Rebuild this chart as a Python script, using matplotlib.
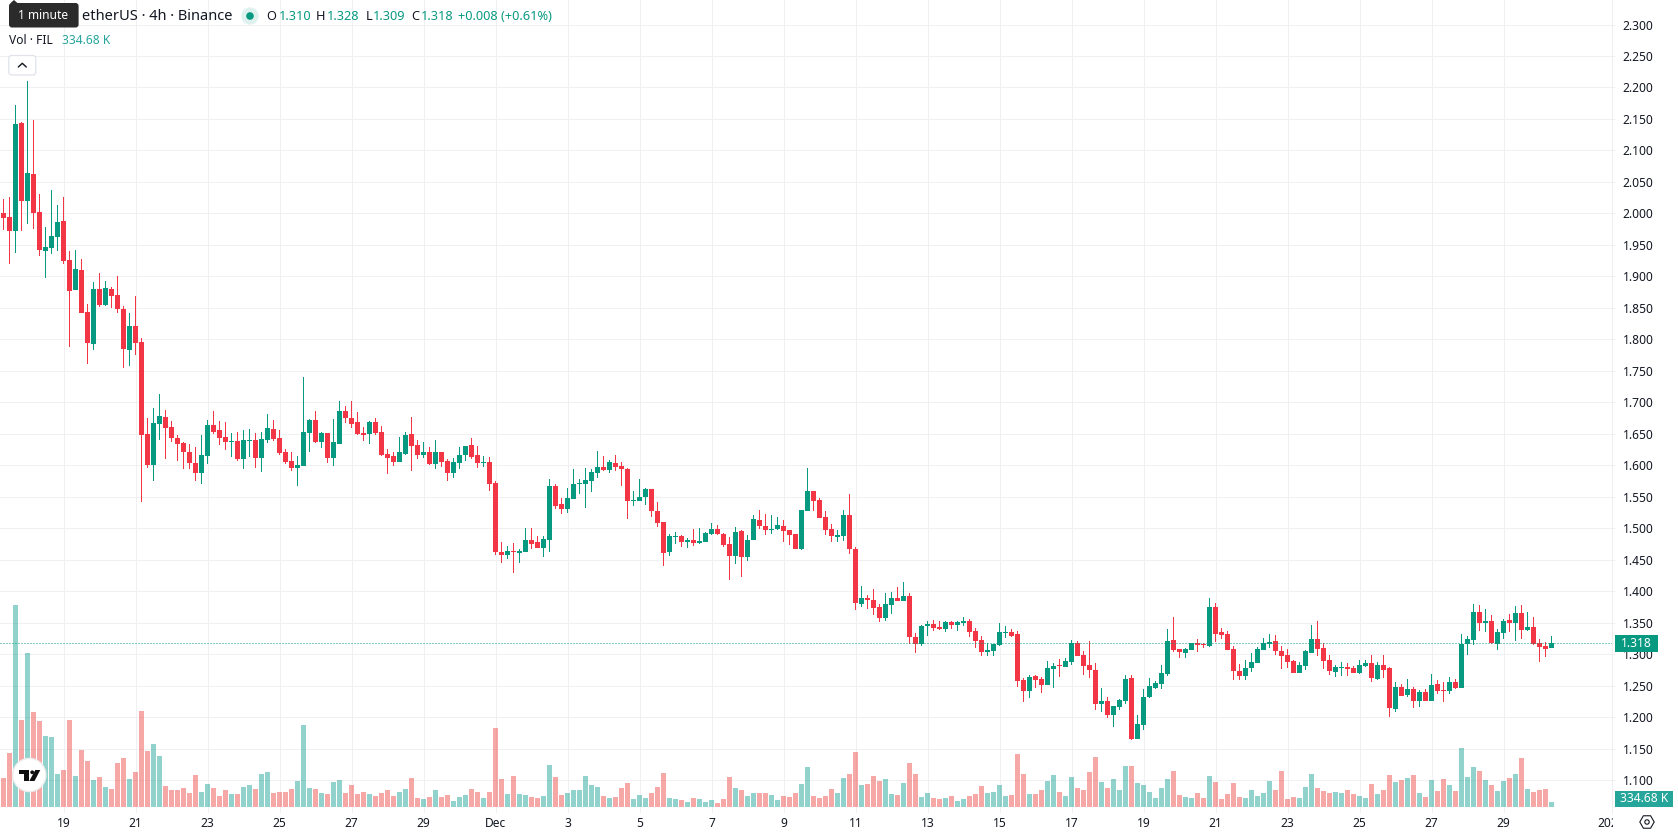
import matplotlib
matplotlib.use("Agg")
import matplotlib.pyplot as plt
from matplotlib.patches import FancyBboxPatch, Circle, Polygon, Rectangle, RegularPolygon
from matplotlib.transforms import Bbox

plt.rcParams['font.family'] = ['Noto Sans', 'DejaVu Sans']

# FIL/USDT 4h candles
opens = [
 2.001,1.994,1.972,2.144,2.020,2.063,2.002,1.941,1.945,1.963,
 1.988,1.926,1.879,1.910,1.844,1.793,1.880,1.855,1.880,1.871,
 1.848,1.783,1.821,1.796,1.650,1.600,1.666,1.677,1.661,1.643,
 1.635,1.621,1.604,1.588,1.615,1.664,1.656,1.645,1.637,1.639,
 1.610,1.639,1.640,1.612,1.640,1.658,1.643,1.621,1.607,1.596,
 1.599,1.651,1.672,1.637,1.651,1.612,1.634,1.686,1.675,1.669,
 1.651,1.650,1.669,1.653,1.618,1.615,1.605,1.618,1.650,1.632,
 1.616,1.621,1.602,1.621,1.607,1.588,1.604,1.616,1.632,1.616,
 1.604,1.605,1.572,1.462,1.458,1.464,1.461,1.462,1.481,1.478,
 1.469,1.481,1.567,1.539,1.531,1.547,1.570,1.570,1.575,1.588,
 1.597,1.592,1.604,1.599,1.594,1.543,1.543,1.550,1.562,1.527,
 1.510,1.462,1.486,1.488,1.478,1.481,1.477,1.478,1.491,1.499,
 1.491,1.475,1.456,1.496,1.454,1.481,1.513,1.504,1.497,1.499,
 1.504,1.497,1.491,1.467,1.527,1.559,1.545,1.518,1.499,1.486,
 1.488,1.521,1.467,1.380,1.389,1.386,1.375,1.357,1.378,1.389,
 1.384,1.392,1.327,1.316,1.345,1.348,1.343,1.340,1.351,1.346,
 1.350,1.353,1.337,1.322,1.304,1.305,1.315,1.334,1.335,1.332,
 1.259,1.242,1.265,1.261,1.251,1.276,1.283,1.280,1.288,1.318,
 1.299,1.283,1.275,1.221,1.226,1.204,1.216,1.226,1.262,1.165,
 1.188,1.232,1.246,1.253,1.269,1.323,1.308,1.302,1.307,1.318,
 1.316,1.313,1.375,1.335,1.332,1.308,1.273,1.265,1.278,1.286,
 1.307,1.316,1.321,1.305,1.299,1.289,1.270,1.281,1.302,1.324,
 1.310,1.291,1.272,1.278,1.280,1.278,1.270,1.281,1.286,1.261,
 1.283,1.278,1.213,1.248,1.235,1.245,1.226,1.240,1.226,1.253,
 1.243,1.242,1.256,1.246,1.316,1.323,1.367,1.350,1.353,1.316,
 1.334,1.354,1.350,1.365,1.338,1.343,1.318,1.313,1.310,
]
highs = [
 2.023,2.026,2.172,2.145,2.210,2.148,2.031,1.979,2.037,2.014,
 2.026,1.941,1.942,1.928,1.856,1.891,1.906,1.893,1.883,1.901,
 1.853,1.842,1.868,1.802,1.675,1.691,1.713,1.688,1.670,1.648,
 1.637,1.634,1.629,1.648,1.672,1.686,1.670,1.669,1.651,1.653,
 1.656,1.658,1.651,1.653,1.681,1.672,1.656,1.626,1.621,1.615,
 1.740,1.673,1.686,1.653,1.651,1.673,1.702,1.694,1.702,1.685,
 1.661,1.670,1.675,1.662,1.626,1.621,1.645,1.653,1.677,1.640,
 1.637,1.629,1.640,1.621,1.610,1.612,1.629,1.631,1.643,1.631,
 1.615,1.613,1.575,1.478,1.472,1.477,1.467,1.500,1.500,1.488,
 1.488,1.578,1.570,1.548,1.564,1.594,1.578,1.596,1.594,1.623,
 1.615,1.608,1.616,1.605,1.596,1.559,1.578,1.564,1.562,1.542,
 1.510,1.491,1.494,1.489,1.485,1.499,1.500,1.494,1.508,1.505,
 1.492,1.486,1.502,1.497,1.489,1.521,1.529,1.523,1.521,1.518,
 1.513,1.497,1.491,1.529,1.596,1.559,1.548,1.527,1.507,1.497,
 1.529,1.554,1.470,1.408,1.394,1.403,1.380,1.397,1.399,1.407,
 1.415,1.397,1.334,1.346,1.353,1.354,1.353,1.353,1.353,1.353,
 1.359,1.356,1.342,1.329,1.318,1.316,1.350,1.345,1.340,1.337,
 1.262,1.267,1.267,1.264,1.289,1.286,1.292,1.294,1.323,1.321,
 1.305,1.321,1.286,1.246,1.232,1.218,1.229,1.267,1.267,1.204,
 1.245,1.262,1.258,1.283,1.340,1.359,1.308,1.310,1.318,1.324,
 1.318,1.389,1.381,1.342,1.337,1.313,1.284,1.291,1.302,1.311,
 1.326,1.332,1.330,1.313,1.308,1.291,1.288,1.307,1.346,1.353,
 1.318,1.299,1.283,1.288,1.286,1.281,1.291,1.291,1.299,1.288,
 1.299,1.280,1.256,1.253,1.261,1.248,1.243,1.245,1.269,1.259,
 1.256,1.264,1.261,1.332,1.329,1.380,1.378,1.372,1.362,1.340,
 1.356,1.364,1.376,1.378,1.367,1.359,1.324,1.319,1.328,
]
lows = [
 1.973,1.920,1.937,1.972,1.983,1.975,1.933,1.898,1.936,1.941,
 1.920,1.787,1.879,1.841,1.761,1.783,1.852,1.853,1.850,1.841,
 1.755,1.758,1.775,1.542,1.596,1.575,1.640,1.610,1.637,1.607,
 1.594,1.594,1.575,1.570,1.602,1.650,1.632,1.624,1.613,1.607,
 1.594,1.613,1.596,1.589,1.635,1.639,1.616,1.602,1.591,1.567,
 1.599,1.621,1.635,1.627,1.604,1.599,1.634,1.667,1.659,1.648,
 1.639,1.634,1.648,1.615,1.586,1.599,1.605,1.616,1.591,1.610,
 1.612,1.600,1.594,1.597,1.575,1.580,1.594,1.607,1.610,1.596,
 1.597,1.559,1.458,1.445,1.451,1.429,1.445,1.462,1.467,1.469,
 1.454,1.462,1.531,1.523,1.524,1.547,1.554,1.532,1.558,1.580,
 1.591,1.588,1.591,1.567,1.515,1.535,1.543,1.537,1.518,1.502,
 1.440,1.456,1.475,1.470,1.469,1.472,1.475,1.478,1.489,1.489,
 1.470,1.418,1.443,1.423,1.448,1.481,1.499,1.489,1.491,1.497,
 1.478,1.473,1.467,1.466,1.527,1.527,1.516,1.489,1.478,1.478,
 1.480,1.459,1.370,1.375,1.372,1.362,1.351,1.353,1.364,1.384,
 1.384,1.316,1.302,1.313,1.329,1.337,1.338,1.335,1.340,1.337,
 1.345,1.327,1.310,1.297,1.297,1.297,1.313,1.326,1.327,1.248,
 1.224,1.231,1.246,1.238,1.251,1.246,1.264,1.280,1.283,1.297,
 1.267,1.262,1.211,1.208,1.199,1.185,1.211,1.221,1.164,1.165,
 1.180,1.231,1.245,1.245,1.265,1.304,1.294,1.294,1.307,1.304,
 1.310,1.311,1.319,1.324,1.307,1.259,1.259,1.259,1.272,1.286,
 1.307,1.310,1.299,1.277,1.278,1.270,1.270,1.275,1.302,1.297,
 1.277,1.267,1.264,1.265,1.265,1.270,1.269,1.280,1.256,1.259,
 1.262,1.200,1.208,1.234,1.232,1.215,1.216,1.226,1.226,1.237,
 1.224,1.237,1.245,1.246,1.299,1.315,1.337,1.335,1.316,1.307,
 1.324,1.335,1.321,1.324,1.337,1.315,1.288,1.296,1.309,
]
closes = [
 1.993,1.972,2.142,2.020,2.064,2.001,1.942,1.947,1.964,1.987,
 1.925,1.877,1.912,1.842,1.794,1.880,1.855,1.882,1.869,1.848,
 1.785,1.821,1.794,1.648,1.600,1.667,1.678,1.659,1.643,1.634,
 1.621,1.604,1.588,1.616,1.664,1.653,1.643,1.637,1.639,1.610,
 1.640,1.640,1.612,1.642,1.659,1.642,1.620,1.605,1.596,1.600,
 1.653,1.672,1.637,1.651,1.612,1.637,1.686,1.675,1.666,1.650,
 1.648,1.669,1.651,1.616,1.612,1.605,1.621,1.648,1.631,1.616,
 1.621,1.602,1.621,1.605,1.588,1.605,1.616,1.631,1.613,1.604,
 1.605,1.570,1.462,1.458,1.464,1.462,1.464,1.481,1.475,1.469,
 1.483,1.567,1.535,1.531,1.548,1.570,1.572,1.577,1.589,1.597,
 1.592,1.605,1.597,1.594,1.543,1.545,1.550,1.562,1.527,1.508,
 1.461,1.488,1.488,1.478,1.481,1.477,1.480,1.492,1.499,1.491,
 1.473,1.456,1.494,1.454,1.481,1.515,1.504,1.497,1.499,1.505,
 1.496,1.489,1.467,1.529,1.559,1.543,1.516,1.497,1.488,1.489,
 1.521,1.467,1.381,1.389,1.386,1.373,1.357,1.380,1.389,1.384,
 1.392,1.327,1.316,1.345,1.348,1.342,1.340,1.351,1.346,1.351,
 1.353,1.335,1.321,1.304,1.307,1.316,1.335,1.335,1.329,1.258,
 1.242,1.264,1.259,1.251,1.278,1.281,1.281,1.289,1.318,1.297,
 1.281,1.275,1.221,1.226,1.204,1.218,1.227,1.261,1.165,1.189,
 1.232,1.250,1.254,1.270,1.321,1.307,1.304,1.308,1.318,1.315,
 1.315,1.375,1.332,1.330,1.307,1.273,1.265,1.278,1.288,1.308,
 1.318,1.319,1.305,1.297,1.288,1.270,1.283,1.305,1.324,1.308,
 1.289,1.273,1.280,1.280,1.277,1.270,1.283,1.286,1.262,1.283,
 1.275,1.215,1.248,1.234,1.245,1.226,1.240,1.226,1.251,1.242,
 1.242,1.256,1.246,1.316,1.324,1.367,1.350,1.353,1.318,1.335,
 1.353,1.350,1.365,1.338,1.343,1.316,1.311,1.308,1.318,
]
# Traded volume per candle, thousands of FIL
volumes_k = [
 1943,3618,13534,5829,10318,6365,5762,4757,4690,2211,
 2479,5829,2077,3819,3082,1809,2010,1340,1206,2948,
 3283,1876,2345,6432,3752,4221,3417,1407,1139,1139,
 1273,938,2144,1005,1541,1273,737,1139,871,871,
 1340,1474,1206,2211,2345,938,1005,1005,1206,1742,
 5494,1273,1206,938,871,1675,1809,938,1474,871,
 1005,871,737,938,1139,737,1005,1206,1943,603,
 536,670,1139,670,804,402,670,804,1206,1005,
 603,1005,5293,1876,871,2077,871,804,670,603,
 737,2814,2010,804,938,1139,1139,2077,1474,1340,
 737,603,670,1273,1608,536,804,603,938,1340,
 2278,603,536,469,335,603,536,335,469,268,
 536,2010,1273,1139,737,938,938,938,804,469,
 737,670,938,1541,2680,737,603,737,1206,938,
 1943,2211,3685,1474,1541,2077,1742,1876,871,804,
 1608,2948,2211,670,938,603,536,603,737,402,
 536,737,871,1407,938,1005,1474,737,804,3551,
 2211,871,871,1139,1742,2144,1005,737,2010,1273,
 1139,2345,3350,1675,1273,1876,1139,2747,2747,1608,
 1474,1005,603,1273,1876,2412,804,670,603,938,
 603,2077,1675,536,871,1608,670,603,1139,737,
 938,1742,1139,2412,536,670,603,1340,2211,1273,
 1072,938,1005,938,1139,871,737,603,1541,871,
 1139,2144,1675,1809,1943,2144,938,670,1809,1072,
 1876,1474,1072,3953,2010,2680,2412,1809,1474,1072,
 1742,1943,2211,3283,1206,1005,1139,1206,334.68,
]
price_ticks = [2.30,2.25,2.20,2.15,2.10,2.05,2.00,1.95,1.90,1.85,1.80,1.75,1.70,1.65,
               1.60,1.55,1.50,1.45,1.40,1.35,1.30,1.25,1.20,1.15,1.10]
date_labels = ['19','21','23','25','27','29','Dec','3','5','7','9','11','13','15','17',
               '19','21','23','25','27','29','2024']
date_candles = [10,22,34,46,58,70,82,94,106,118,130,142,154,166,178,190,202,214,226,238,250,268]
last_price = 1.318
last_volume_k = 334.68

W, H = 1678, 835
UP, DOWN = '#089981', '#F23645'
VOL_UP, VOL_DOWN = '#26A69A', '#EF5350'
GRID = '#F0F0F2'
INK = '#131722'
FS = 8.64

# Scale constants for the panes
PX_PER_CANDLE = 6.0
FIRST_CANDLE_X = 3.5
PANE_RIGHT, PANE_BOTTOM = 1611.5, 813.0
PX_PER_PRICE = 629.6
PRICE_REF_Y = 24.5
VOL_BASE_Y = 807.0
K_PER_PX = 66.94

fig = plt.figure(figsize=(W/100, H/100), dpi=100, facecolor='white')
rect = [0, 1 - PANE_BOTTOM/H, PANE_RIGHT/W, PANE_BOTTOM/H]
xlim = (-FIRST_CANDLE_X/PX_PER_CANDLE, (PANE_RIGHT-FIRST_CANDLE_X)/PX_PER_CANDLE)
price_lim = (2.30 - (PANE_BOTTOM-PRICE_REF_Y)/PX_PER_PRICE, 2.30 + PRICE_REF_Y/PX_PER_PRICE)

# Background pane carries the grid and both axes' labels
ax_bg = fig.add_axes(rect, zorder=0)
ax_bg.set_xlim(xlim); ax_bg.set_ylim(price_lim)
ax_bg.yaxis.tick_right()
ax_bg.set_yticks(price_ticks, [f'{p:.3f}' for p in price_ticks])
ax_bg.set_xticks(date_candles, date_labels)
ax_bg.grid(True, color=GRID, lw=0.72)
ax_bg.set_axisbelow(True)
ax_bg.tick_params(axis='y', length=1.8, width=0.72, color=GRID, pad=6.2, labelsize=FS, labelcolor=INK)
ax_bg.tick_params(axis='x', length=0, pad=3.0, labelsize=FS, labelcolor=INK)
for name, sp in ax_bg.spines.items():
    sp.set_visible(name == 'right')
    sp.set_color('#EEEEF0'); sp.set_linewidth(0.72)
year_label = ax_bg.get_xticklabels()[-1]
year_label.set_fontweight('bold')
year_label.set_clip_on(True)
year_label.set_clip_box(Bbox([[0, 0], [1613, H]]))

xs = list(range(len(closes)))
is_up = [c >= o for o, c in zip(opens, closes)]

# Volume histogram
ax_vol = fig.add_axes(rect, zorder=1, facecolor='none')
ax_vol.set_xlim(xlim)
ax_vol.set_ylim(-(PANE_BOTTOM-VOL_BASE_Y)*K_PER_PX, VOL_BASE_Y*K_PER_PX)
ax_vol.bar(xs, volumes_k, width=5/PX_PER_CANDLE, linewidth=0, alpha=0.5,
           color=[VOL_UP if u else VOL_DOWN for u in is_up])
ax_vol.axis('off')

# Candles
ax = fig.add_axes(rect, zorder=2, facecolor='none')
ax.set_xlim(xlim); ax.set_ylim(price_lim)
colors = [UP if u else DOWN for u in is_up]
ax.bar(xs, [h-l for h, l in zip(highs, lows)], bottom=lows, width=1/PX_PER_CANDLE,
       color=colors, linewidth=0)
ax.bar(xs, [max(abs(c-o), 0.0012) for o, c in zip(opens, closes)],
       bottom=[min(o, c) for o, c in zip(opens, closes)], width=5/PX_PER_CANDLE,
       color=colors, linewidth=0)
ax.axhline(last_price, color=UP, lw=0.72, ls=(0, (1, 2)))
ax.axis('off')

# Header, tags and logo are placed in figure pixels
ui = fig.add_axes([0, 0, 1, 1], zorder=3, facecolor='none')
ui.set_xlim(0, W); ui.set_ylim(H, 0); ui.axis('off')

def label(x, y, s, color=INK, size=FS, ha='left', **kw):
    return ui.text(x, y, s, color=color, fontsize=size, ha=ha, va='center', **kw)

label(232, 16.3, 'etherUS · 4h · Binance', size=10.55, ha='right')
ui.add_patch(FancyBboxPatch((9, 3), 69.6, 24.5, boxstyle='round,pad=0,rounding_size=3',
                            mutation_aspect=1, fc='#2B2B2B', ec='none'))
ui.add_patch(Polygon([[10, 3.5], [14, 0], [18, 3.5]], fc='#2B2B2B', ec='none'))
label(43.5, 15.7, '1 minute', color='white', ha='center')

ui.add_patch(Circle((250, 16), 8.6, fc='#DFF1EE', ec='none'))
ui.add_patch(Circle((250, 16), 3.8, fc=UP, ec='none'))

for x, s, c in [(266, 'O', INK), (279, '1.310', UP), (316, 'H', INK), (327, '1.328', UP),
                (365.5, 'L', INK), (372.5, '1.309', UP), (411, 'C', INK), (420.5, '1.318', UP),
                (458, '+0.008 (+0.61%)', UP)]:
    label(x, 16.3, s, color=c, size=9.2)

label(8.6, 40.3, 'Vol · FIL')
label(62.5, 40.3, '334.68 K', color=VOL_UP)

ui.add_patch(FancyBboxPatch((8.8, 55.5), 27, 19.5, boxstyle='round,pad=0,rounding_size=3',
                            fc='white', ec='#E0E3EB', lw=0.9))
ui.plot([18.3, 22.3, 26.3], [67, 63.3, 67], color=INK, lw=1.0, solid_capstyle='round')

# Last-value tags on the price scale
ui.add_patch(Rectangle((1615, 635), 43, 17, fc=UP, ec='none'))
label(1636.5, 643.4, f'{last_price:.3f}', color='white', ha='center')
ui.add_patch(Rectangle((1615, 791), 58, 16, fc=VOL_UP, ec='none'))
label(1644, 799, f'{last_volume_k:.2f} K', color='white', ha='center')

# Scale settings glyph
ui.add_patch(RegularPolygon((1647, 822), 6, radius=7.2, orientation=0.5236, fc='none', ec=INK, lw=0.8))
ui.add_patch(Circle((1647, 822), 2.2, fc='none', ec=INK, lw=0.8))

# Attribution badge
ui.add_patch(Circle((29.3, 775), 16.6, fc='white', ec='#EDEDED', lw=1.0))
logo = '#0F0F0F'
ui.add_patch(Polygon([[19, 770], [28.5, 770], [28.5, 781], [24, 781], [24, 773.8], [19, 773.8]], fc=logo, ec='none'))
ui.add_patch(Circle((32.2, 772.3), 1.9, fc=logo, ec='none'))
ui.add_patch(Polygon([[35.3, 770], [40.3, 770], [34.5, 781], [29.3, 781]], fc=logo, ec='none'))

fig.savefig('out.png', dpi=100, facecolor='white')
